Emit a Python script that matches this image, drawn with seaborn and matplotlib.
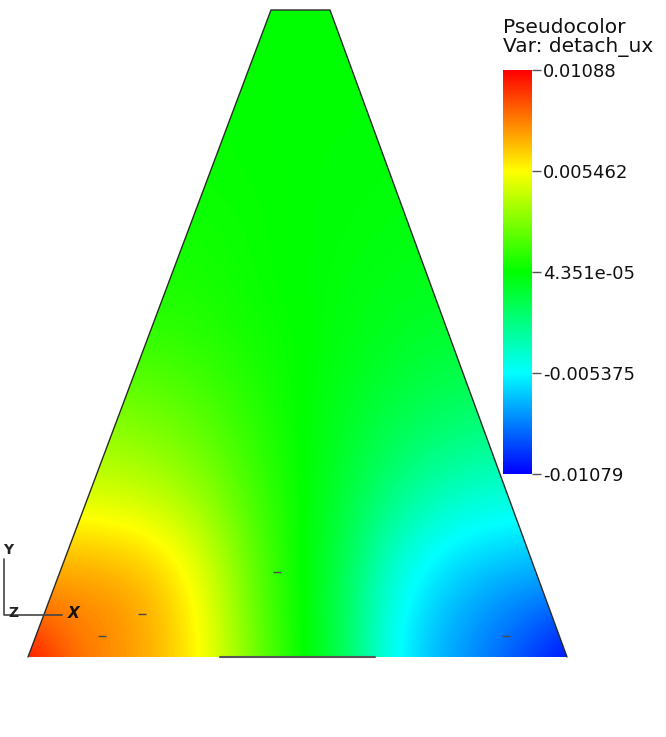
import numpy as np
import matplotlib
matplotlib.use("Agg")
import matplotlib.pyplot as plt
from matplotlib.patches import Polygon
import seaborn as sns

# -- Data

# domain outline (trapezoid corners, screen units, y grows downwards)
domain_x = [28, 271, 330, 567]
domain_y = [657, 10, 10, 657]

# sample grid of detach_ux
grid_x = [28, 73, 118, 163, 208, 253, 298, 343, 388, 433, 478, 523, 568]
grid_y = [10, 64, 118, 172, 226, 280, 334, 388, 441, 495, 549, 603, 657]

row_010 = [0.0001, 0.0001, 0.0001, 0.0001, 0.0001, 0.0001, 0.0000, 0.0000, -0.0001, -0.0001, -0.0001, -0.0001, -0.0001]
row_064 = [0.0001, 0.0001, 0.0001, 0.0001, 0.0001, 0.0001, 0.0000, 0.0000, -0.0001, -0.0001, -0.0001, -0.0001, -0.0001]
row_118 = [0.0002, 0.0002, 0.0002, 0.0002, 0.0001, 0.0001, 0.0000, 0.0000, -0.0001, -0.0001, -0.0002, -0.0002, -0.0002]
row_172 = [0.0003, 0.0003, 0.0003, 0.0002, 0.0002, 0.0001, 0.0000, -0.0001, -0.0001, -0.0002, -0.0002, -0.0002, -0.0002]
row_226 = [0.0004, 0.0004, 0.0004, 0.0004, 0.0003, 0.0002, 0.0000, -0.0001, -0.0002, -0.0003, -0.0003, -0.0003, -0.0003]
row_280 = [0.0007, 0.0007, 0.0007, 0.0006, 0.0005, 0.0002, 0.0000, -0.0002, -0.0004, -0.0005, -0.0006, -0.0006, -0.0006]
row_334 = [0.0012, 0.0012, 0.0011, 0.0010, 0.0008, 0.0004, 0.0001, -0.0003, -0.0006, -0.0009, -0.0010, -0.0010, -0.0010]
row_388 = [0.0022, 0.0022, 0.0021, 0.0019, 0.0014, 0.0007, 0.0001, -0.0005, -0.0011, -0.0015, -0.0018, -0.0019, -0.0019]
row_441 = [0.0035, 0.0034, 0.0032, 0.0028, 0.0021, 0.0011, 0.0001, -0.0008, -0.0017, -0.0024, -0.0028, -0.0030, -0.0030]
row_495 = [0.0047, 0.0046, 0.0045, 0.0040, 0.0030, 0.0015, 0.0002, -0.0011, -0.0026, -0.0037, -0.0044, -0.0046, -0.0046]
row_549 = [0.0068, 0.0066, 0.0064, 0.0058, 0.0042, 0.0020, 0.0002, -0.0015, -0.0038, -0.0054, -0.0060, -0.0063, -0.0065]
row_603 = [0.0082, 0.0080, 0.0077, 0.0068, 0.0050, 0.0022, 0.0002, -0.0017, -0.0048, -0.0063, -0.0073, -0.0080, -0.0085]
row_657 = [0.0108, 0.0085, 0.0078, 0.0068, 0.0052, 0.0025, 0.0003, -0.0016, -0.0050, -0.0068, -0.0080, -0.0092, -0.0108]

# small mesh marks visible on the surface
mark_x = [277, 142, 102, 506]
mark_y = [572, 614, 636, 636]

# bottom edge segment drawn dark
edge_x = [220, 375]
edge_y = [657, 657]

# colour bar
vmin, vmax = -0.01079, 0.01088
tick_vals = [0.01088, 0.005462, 4.351e-05, -0.005375, -0.01079]
tick_labels = ["0.01088", "0.005462", "4.351e-05", "-0.005375", "-0.01079"]
legend_title = "Pseudocolor\nVar: detach_ux"

# -- Drawing

sns.set_style("white")
plt.rcParams['font.family'] = ['DejaVu Sans']

# VisIt "hot" table: blue - cyan - green - yellow - red
cmap = sns.blend_palette(["#0000ff", "#00ffff", "#00ff00", "#ffff00", "#ff0000"], as_cmap=True)

field = np.array([row_010, row_064, row_118, row_172, row_226, row_280, row_334,
                  row_388, row_441, row_495, row_549, row_603, row_657])

fig = plt.figure(figsize=(6.66, 7.37), dpi=100)
ax = fig.add_axes([0, 0, 1, 1])
ax.set_xlim(0, 666)
ax.set_ylim(737, 0)
ax.axis("off")

dx = (grid_x[-1] - grid_x[0]) / (len(grid_x) - 1)
dy = (grid_y[-1] - grid_y[0]) / (len(grid_y) - 1)
extent = [grid_x[0] - dx / 2, grid_x[-1] + dx / 2, grid_y[-1] + dy / 2, grid_y[0] - dy / 2]

im = ax.imshow(field, cmap=cmap, vmin=vmin, vmax=vmax, extent=extent, origin="upper",
               interpolation="bicubic", interpolation_stage="data", aspect="auto")

poly = Polygon(list(zip(domain_x, domain_y)), closed=True, facecolor="none", edgecolor="none")
ax.add_patch(poly)
im.set_clip_path(poly)

# outline: left, top and right sides
ax.plot(domain_x, domain_y, color="#2a2a2a", lw=1.0)
ax.plot(edge_x, edge_y, color="#555555", lw=1.5)
ax.scatter(mark_x, mark_y, marker="_", s=40, color="#4a4a4a", linewidths=1)

# axis triad in the lower left corner
ax.plot([4, 4, 62], [559, 615, 615], color="#444444", lw=1.2)
ax.text(8, 550, "Y", fontsize=10, fontweight="bold", ha="center", va="center", color="#222222")
ax.text(13, 613, "Z", fontsize=10, fontweight="bold", ha="center", va="center", color="#222222")
ax.text(74, 613, "X", fontsize=11, fontweight="bold", style="italic", ha="center", va="center", color="#111111")

# colour bar
cax = fig.add_axes([503 / 666, 1 - 474 / 737, 29 / 666, 404 / 737])
cb = fig.colorbar(im, cax=cax, ticks=tick_vals)
cb.outline.set_visible(False)
cax.set_yticklabels(tick_labels)
cax.tick_params(axis="y", length=6.5, width=1, color="#555555", pad=1.5, labelsize=13, labelcolor="#111111")
fig.text(503 / 666, 1 - 18 / 737, legend_title, fontsize=14.5, ha="left", va="top",
         color="#111111", linespacing=1.0)

plt.savefig("out.png", dpi=100)
plt.close()
